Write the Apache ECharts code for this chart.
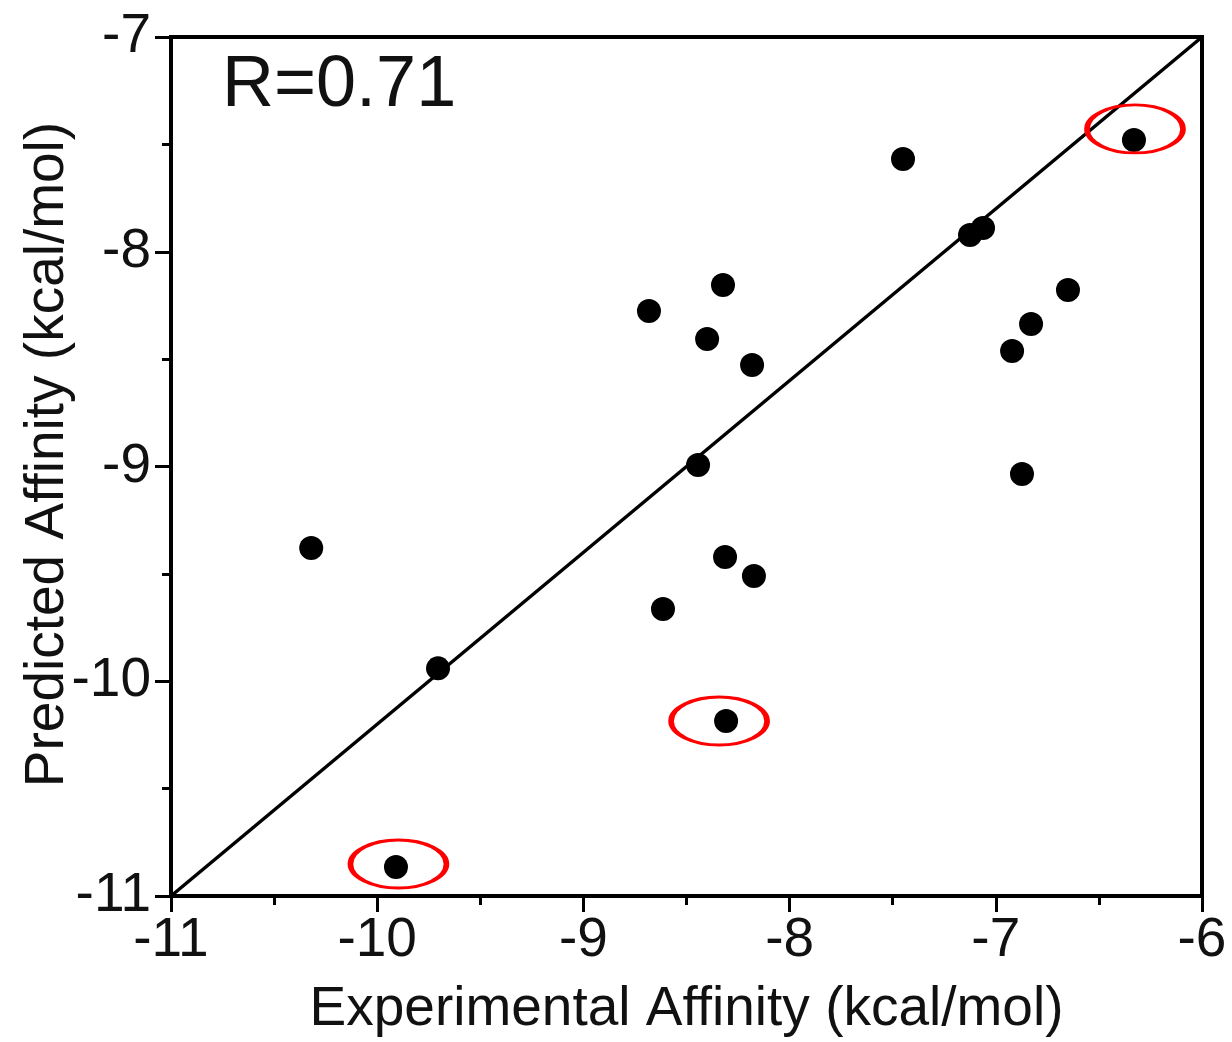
<!DOCTYPE html>
<html>
<head>
<meta charset="utf-8">
<script src="https://cdn.jsdelivr.net/npm/echarts@6/dist/echarts.min.js"></script>
<style>
html,body{margin:0;padding:0;background:#fff;}
#chart{width:1232px;height:1042px;}
</style>
</head>
<body>
<div id="chart"></div>
<script>
// Experimental affinity (x) and predicted affinity (y), kcal/mol
var expAffinity = [-10.32, -9.705, -9.909, -8.682, -8.614, -8.323, -8.40, -8.182, -8.444, -8.313,
                   -8.173, -8.308, -7.45, -7.125, -7.062, -6.65, -6.829, -6.921, -6.873, -6.33];
var predAffinity = [-9.38, -9.94, -10.865, -8.276, -9.664, -8.155, -8.406, -8.527, -8.993, -9.421,
                    -9.51, -10.185, -7.568, -7.922, -7.889, -8.178, -8.336, -8.462, -9.035, -7.48];
// Reference line endpoints
var lineX = [-11, -6];
var lineY = [-11, -7];
// Centres of the red highlight ellipses
var highlightX = [-6.325, -8.342, -9.897];
var highlightY = [-7.428, -10.185, -10.851];
var xTicks = [-11, -10, -9, -8, -7, -6];
var yTicks = [-11, -10, -9, -8, -7];
var corrLabel = 'R=0.71';

var FONT = '"Liberation Sans", Arial, sans-serif';

var points = expAffinity.map(function (x, i) { return [x, predAffinity[i]]; });
var linePts = lineX.map(function (x, i) { return [x, lineY[i]]; });
var hl = highlightX.map(function (x, i) { return [x, highlightY[i]]; });

var chart = echarts.init(document.getElementById('chart'));
var axisCommon = {
  axisLine: { show: true, lineStyle: { color: '#000', width: 4 } },
  axisTick: { show: true, inside: false, length: 16, lineStyle: { color: '#000', width: 3 } },
  minorTick: { show: true, splitNumber: 2, length: 9, lineStyle: { color: '#000', width: 3 } },
  splitLine: { show: false },
  nameLocation: 'middle',
  nameMoveOverlap: false,
  nameTextStyle: { fontFamily: FONT, fontSize: 55, color: '#111' }
};
chart.setOption({
  animation: false,
  backgroundColor: '#fff',
  grid: { left: 171, top: 37, right: 30, bottom: 146, show: true, borderColor: '#000', borderWidth: 4,
          containLabel: false, outerBoundsMode: 'none' },
  xAxis: Object.assign({}, axisCommon, {
    type: 'value', min: xTicks[0], max: xTicks[xTicks.length - 1], interval: 1,
    name: 'Experimental Affinity (kcal/mol)', nameGap: 86,
    axisLabel: { margin: 17, fontFamily: FONT, fontSize: 55, color: '#111',
      formatter: function (v) { return String(v); } }
  }),
  yAxis: Object.assign({}, axisCommon, {
    type: 'value', min: yTicks[0], max: yTicks[yTicks.length - 1], interval: 1,
    name: 'Predicted Affinity (kcal/mol)', nameGap: 96,
    nameTextStyle: { fontFamily: FONT, fontSize: 55, color: '#111', padding: [0, 0, 0, 24] },
    axisLabel: { margin: 20, fontFamily: FONT, fontSize: 55, color: '#111',
      formatter: function (v) { return String(v); } }
  }),
  graphic: [{
    type: 'text', left: 222, top: 50,
    style: { text: corrLabel, font: '72px ' + FONT, fill: '#111' }
  }],
  series: [
    {
      type: 'line', data: linePts, symbol: 'none', silent: true,
      lineStyle: { color: '#000', width: 3.5 }, z: 2
    },
    {
      type: 'scatter', data: points, symbol: 'circle', symbolSize: 24,
      itemStyle: { color: '#000', opacity: 1 }, z: 3
    },
    {
      type: 'scatter', data: hl, symbol: 'circle', symbolSize: [96, 48],
      itemStyle: { color: 'rgba(0,0,0,0)', borderColor: '#ff0000', borderWidth: 4, opacity: 1 }, z: 4
    }
  ]
});
</script>
</body>
</html>
